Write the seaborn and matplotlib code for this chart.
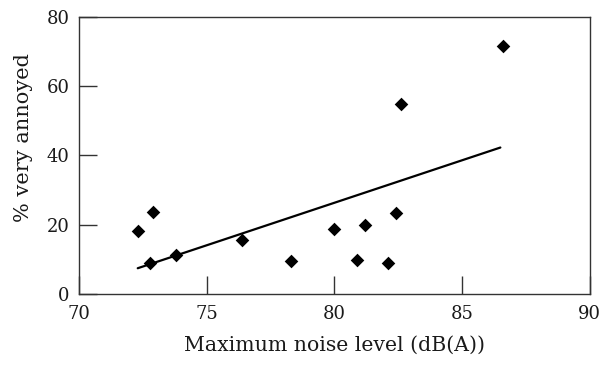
import matplotlib
matplotlib.use("Agg")
import matplotlib.pyplot as plt
import pandas as pd
import seaborn as sns

# ========== DATA ==========
noise_level = [72.3, 72.8, 72.9, 73.8, 76.4, 78.3, 80.0, 80.9, 81.2, 82.1, 82.4, 82.6, 86.6]
very_annoyed = [18.1, 8.9, 23.6, 11.3, 15.6, 9.5, 18.8, 9.9, 20.0, 8.9, 23.5, 55.0, 71.8]

fit_x = [72.3, 86.5]
fit_y = [7.4, 42.3]

x_ticks = [70, 75, 80, 85, 90]
y_ticks = [0, 20, 40, 60, 80]
# ==========================

sns.set_theme(style="ticks")
plt.rcParams['font.family'] = ['DejaVu Serif']

df_points = pd.DataFrame({'noise': noise_level, 'annoyed': very_annoyed})
df_fit = pd.DataFrame({'noise': fit_x, 'annoyed': fit_y})

fig = plt.figure(figsize=(6.03, 3.65), dpi=100)
ax = fig.add_axes([0.131, 0.195, 0.847, 0.758])

sns.lineplot(data=df_fit, x='noise', y='annoyed', color='black', linewidth=1.6, ax=ax)
sns.scatterplot(data=df_points, x='noise', y='annoyed', marker='D', s=48,
                color='black', edgecolor='black', linewidth=0, ax=ax, zorder=3)

ax.set_xlim(70, 90)
ax.set_ylim(0, 80)
ax.set_xticks(x_ticks)
ax.set_yticks(y_ticks)
ax.tick_params(direction='in', length=13, width=1, colors='#333333',
               labelsize=13, labelcolor='#1a1a1a')
ax.tick_params(axis='x', pad=8)
ax.tick_params(axis='y', pad=7)

for side in ['top', 'right', 'left', 'bottom']:
    ax.spines[side].set_visible(True)
    ax.spines[side].set_color('#333333')
    ax.spines[side].set_linewidth(1)

ax.set_xlabel('Maximum noise level (dB(A))', fontsize=14.7, color='#1a1a1a', labelpad=9)
ax.set_ylabel('% very annoyed', fontsize=15, color='#1a1a1a')
# label sits a bit above the axis middle in the reference
ax.yaxis.set_label_coords(-0.09, 0.565)

fig.savefig('out.png', dpi=100)
